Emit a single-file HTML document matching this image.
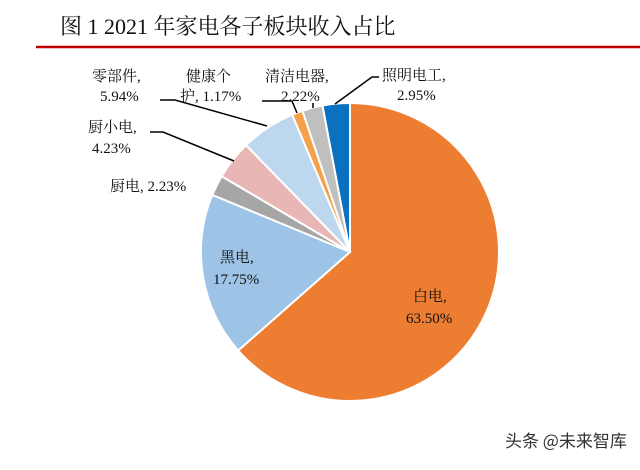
<!DOCTYPE html>
<html><head><meta charset="utf-8"><style>
body{margin:0;background:#fff;}
svg text{font-family:"Liberation Serif","Noto Serif CJK SC",serif;font-size:15px;fill:#111;}
</style></head><body>
<svg width="640" height="465" viewBox="0 0 640 465">
<text x="60" y="34" style="font-size:22px">图 1 2021 年家电各子板块收入占比</text>
<line x1="36" y1="47" x2="640" y2="47" stroke="#C00000" stroke-width="2.5"/>
<g id="slices"></g>
<g stroke="#000" stroke-width="1.5" fill="none">
<polyline points="160,100 175,100 267,126"/>
<polyline points="262,101 292,101 297,113"/>
<polyline points="313,103 313,108"/>
<polyline points="379,77 372,77 335,104"/>
<polyline points="150,132 163,132 234,161"/>
</g>
<text x="92" y="81">零部件,</text>
<text x="100" y="101">5.94%</text>
<text x="186" y="81">健康个</text>
<text x="180" y="101">护, 1.17%</text>
<text x="265" y="81">清洁电器,</text>
<text x="281" y="101">2.22%</text>
<text x="382" y="80">照明电工,</text>
<text x="397" y="100">2.95%</text>
<text x="88" y="132">厨小电,</text>
<text x="92" y="153">4.23%</text>
<text x="110" y="191">厨电, 2.23%</text>
<text x="220" y="262">黑电,</text>
<text x="213" y="284">17.75%</text>
<text x="413" y="301">白电,</text>
<text x="406" y="323">63.50%</text>
<text x="505" y="447" style="font-family:'Noto Sans CJK SC',sans-serif;font-size:17px;fill:#333">头条 @未来智库</text>
</svg>
<script>
const categories=["白电","黑电","厨电","厨小电","零部件","健康个护","清洁电器","照明电工"];
const values=[63.50,17.75,2.23,4.23,5.94,1.17,2.22,2.95];
const colors=["#ED7D31","#9DC3E6","#A6A6A6","#E8B7B5","#BDD7EE","#F5A04A","#BFBFBF","#0A70C0"];
const cx=350,cy=252,r=149;
const g=document.getElementById('slices');
const total=values.reduce((a,b)=>a+b,0);
let a0=0;
values.forEach((v,i)=>{
  const a1=a0+v/total*2*Math.PI;
  const x0=cx+r*Math.sin(a0),y0=cy-r*Math.cos(a0),x1=cx+r*Math.sin(a1),y1=cy-r*Math.cos(a1);
  const p=document.createElementNS('http://www.w3.org/2000/svg','path');
  p.setAttribute('d',`M${cx},${cy}L${x0},${y0}A${r},${r} 0 ${a1-a0>Math.PI?1:0} 1 ${x1},${y1}Z`);
  p.setAttribute('fill',colors[i]);p.setAttribute('stroke','#fff');p.setAttribute('stroke-width','2');
  
  
  g.appendChild(p);a0=a1;
});
</script>
</body></html>
